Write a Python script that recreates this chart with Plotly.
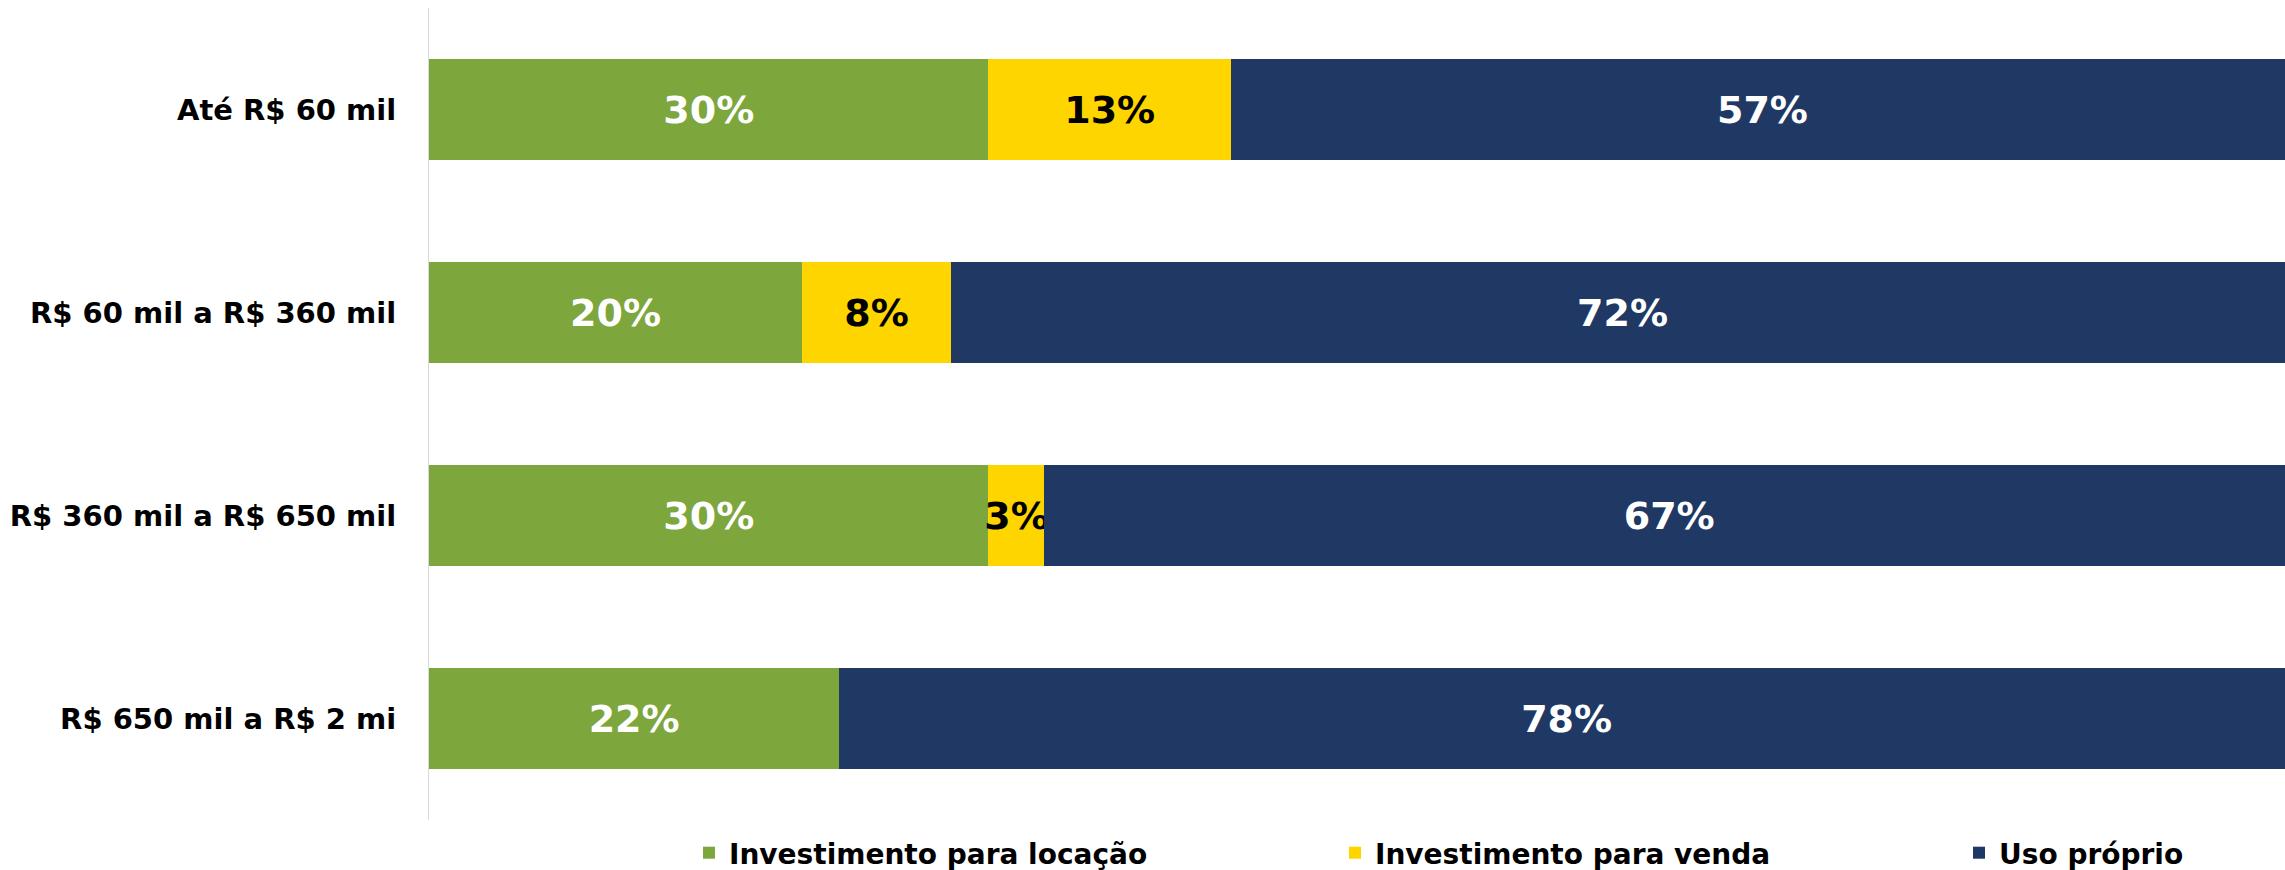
import plotly.graph_objects as go

categories = ["Até R$ 60 mil", "R$ 60 mil a R$ 360 mil", "R$ 360 mil a R$ 650 mil", "R$ 650 mil a R$ 2 mi"]
locacao = [30, 20, 30, 22]
venda = [13, 8, 3, 0]
uso_proprio = [57, 72, 67, 78]

series = [
    ("Investimento para locação", locacao, "#7da63d", "white", "legend"),
    ("Investimento para venda", venda, "#ffd500", "black", "legend2"),
    ("Uso próprio", uso_proprio, "#203864", "white", "legend3"),
]

FONT = "DejaVu Sans"
W, H = 2285, 870

fig = go.Figure()
for name, vals, color, txtcolor, leg in series:
    fig.add_trace(go.Bar(
        y=categories,
        x=vals,
        name=name,
        orientation="h",
        marker=dict(color=color, line=dict(width=0)),
        text=[f"{v}%" if v else "" for v in vals],
        textposition="inside",
        insidetextanchor="middle",
        constraintext="none",
        textangle=0,
        insidetextfont=dict(family=FONT, size=38, color=txtcolor, weight="bold"),
        legend=leg,
    ))

leg_common = dict(
    orientation="h",
    xref="container",
    yref="container",
    yanchor="middle",
    y=17 / H,
    xanchor="left",
    font=dict(family=FONT, size=28, color="black", weight="bold"),
    bgcolor="rgba(0,0,0,0)",
)

fig.update_layout(
    barmode="stack",
    bargap=0.5,
    width=W,
    height=H,
    margin=dict(l=429, r=0, t=8, b=50, autoexpand=False),
    plot_bgcolor="white",
    paper_bgcolor="white",
    showlegend=True,
    legend=dict(x=689 / W, **leg_common),
    legend2=dict(x=1335 / W, **leg_common),
    legend3=dict(x=1959 / W, **leg_common),
    xaxis=dict(range=[0, 99.52], showgrid=False, showticklabels=False, zeroline=False, showline=False),
    yaxis=dict(
        autorange="reversed",
        automargin=False,
        showgrid=False,
        showline=True,
        linecolor="#d9d9d9",
        linewidth=1,
        ticks="",
        ticklabelstandoff=26,
        tickfont=dict(family=FONT, size=29, color="black", weight="bold"),
    ),
)

# drop the default page margin so the figure fills the window exactly
fig.write_html(
    "out.html",
    config={"displayModeBar": False},
    post_script="document.body.style.margin='0';document.body.style.overflow='hidden';",
)
